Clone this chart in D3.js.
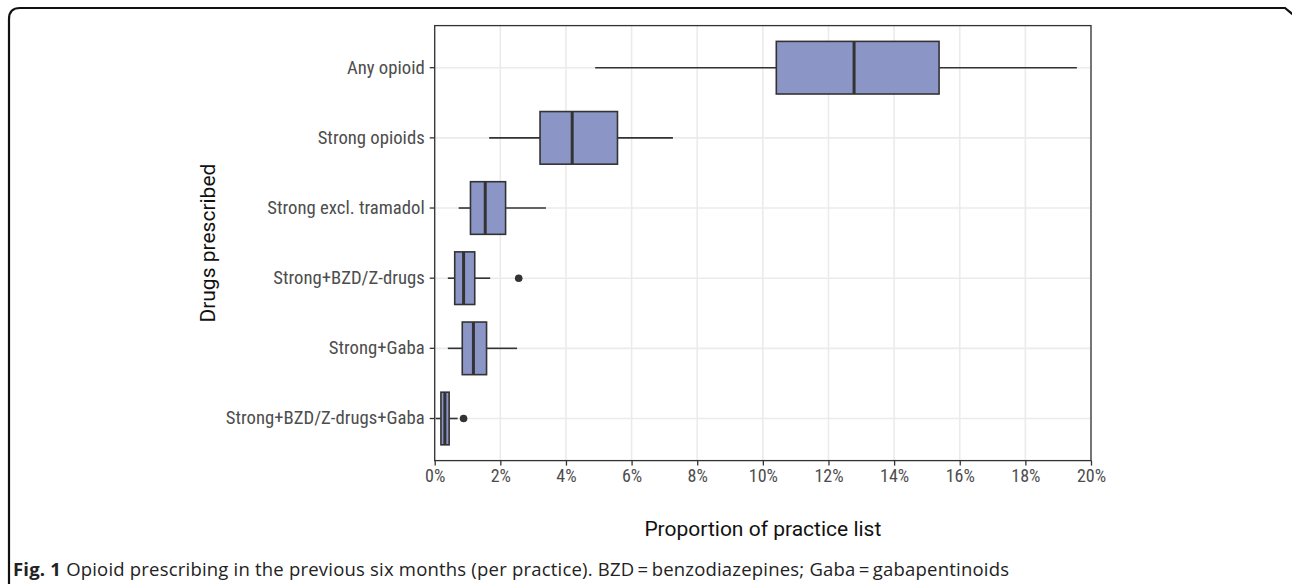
<!DOCTYPE html>
<html>
<head>
<meta charset="utf-8">
<script src="https://cdn.jsdelivr.net/npm/d3@7"></script>
<style>
  body { margin: 0; background: #fff; }
  svg { display: block; }
  .tick text { font-family: "Liberation Sans Narrow", "Roboto Condensed", Roboto, sans-serif; }
</style>
</head>
<body>
<svg id="chart"></svg>
<script>
const width = 1292;
const height = 584;

// groups from top to bottom
const categories = [
  "Any opioid",
  "Strong opioids",
  "Strong excl. tramadol",
  "Strong+BZD/Z-drugs",
  "Strong+Gaba",
  "Strong+BZD/Z-drugs+Gaba"
];

// five-number summaries, % of practice list
const whiskerLow = [4.89, 1.66, 0.73, 0.40, 0.40, 0.03];
const q1 = [10.41, 3.21, 1.09, 0.61, 0.84, 0.19];
const median = [12.78, 4.19, 1.54, 0.88, 1.18, 0.31];
const q3 = [15.37, 5.57, 2.16, 1.22, 1.58, 0.44];
const whiskerHigh = [19.57, 7.26, 3.39, 1.69, 2.51, 0.70];
const outliers = [[], [], [], [2.56], [], [0.88]];

const xTicks = [0, 2, 4, 6, 8, 10, 12, 14, 16, 18, 20];

const margin = { top: 25.6, right: 201, bottom: 123.4, left: 434.7 };
const plotW = width - margin.left - margin.right;
const plotH = height - margin.top - margin.bottom;

const svg = d3.select("#chart")
  .attr("width", width)
  .attr("height", height);

// figure frame (journal style rounded box)
svg.append("path")
  .attr("d", "M9,600 L9,19 Q9,8 20,8 L1285,8 L1296,17")
  .attr("fill", "none")
  .attr("stroke", "#111")
  .attr("stroke-width", 2.2);

const g = svg.append("g")
  .attr("transform", `translate(${margin.left},${margin.top})`);

const x = d3.scaleLinear().domain([0, 20]).range([0, plotW]);

const y = d3.scaleBand()
  .domain(categories)
  .range([0, plotH])
  .paddingOuter(0.1)
  .paddingInner(0);

const boxH = y.bandwidth() * 0.75;
const cy = d => y(d) + y.bandwidth() / 2;

// grid
g.append("g")
  .selectAll("line.vgrid")
  .data(xTicks)
  .join("line")
  .attr("x1", d => x(d)).attr("x2", d => x(d))
  .attr("y1", 0).attr("y2", plotH)
  .attr("stroke", "#ebebeb")
  .attr("stroke-width", 1.6);

g.append("g")
  .selectAll("line.hgrid")
  .data(categories)
  .join("line")
  .attr("x1", 0).attr("x2", plotW)
  .attr("y1", cy).attr("y2", cy)
  .attr("stroke", "#ebebeb")
  .attr("stroke-width", 1.6);

// boxes
const rows = categories.map((c, i) => ({
  c, lo: whiskerLow[i], q1: q1[i], med: median[i], q3: q3[i], hi: whiskerHigh[i], out: outliers[i]
}));

const box = g.append("g")
  .selectAll("g")
  .data(rows)
  .join("g");

box.append("line")
  .attr("x1", d => x(d.lo)).attr("x2", d => x(d.q1))
  .attr("y1", d => cy(d.c)).attr("y2", d => cy(d.c))
  .attr("stroke", "#333").attr("stroke-width", 1.6);

box.append("line")
  .attr("x1", d => x(d.q3)).attr("x2", d => x(d.hi))
  .attr("y1", d => cy(d.c)).attr("y2", d => cy(d.c))
  .attr("stroke", "#333").attr("stroke-width", 1.6);

box.append("rect")
  .attr("x", d => x(d.q1))
  .attr("width", d => x(d.q3) - x(d.q1))
  .attr("y", d => cy(d.c) - boxH / 2)
  .attr("height", boxH)
  .attr("fill", "#8b95c6")
  .attr("stroke", "#333")
  .attr("stroke-width", 1.6);

box.append("line")
  .attr("x1", d => x(d.med)).attr("x2", d => x(d.med))
  .attr("y1", d => cy(d.c) - boxH / 2).attr("y2", d => cy(d.c) + boxH / 2)
  .attr("stroke", "#333").attr("stroke-width", 3);

box.selectAll("circle")
  .data(d => d.out.map(v => ({ v, c: d.c })))
  .join("circle")
  .attr("cx", d => x(d.v))
  .attr("cy", d => cy(d.c))
  .attr("r", 3.8)
  .attr("fill", "#333");

// panel border
g.append("rect")
  .attr("width", plotW).attr("height", plotH)
  .attr("fill", "none")
  .attr("stroke", "#333")
  .attr("stroke-width", 1.3);

// axes
const xAxis = g.append("g")
  .attr("transform", `translate(0,${plotH})`)
  .call(d3.axisBottom(x).tickValues(xTicks).tickFormat(d => d + "%").tickSize(5).tickPadding(4));

const yAxis = g.append("g")
  .call(d3.axisLeft(y).tickSize(5).tickPadding(5));

[xAxis, yAxis].forEach(a => {
  a.select(".domain").remove();
  a.selectAll(".tick line").attr("stroke", "#333").attr("stroke-width", 1.3);
  a.selectAll(".tick text").attr("fill", "#4d4d4d").style("font-size", "18.7px");
});
xAxis.selectAll(".tick text").style("font-size", "18px");

// axis titles
svg.append("text")
  .attr("x", margin.left + plotW / 2)
  .attr("y", 536)
  .attr("text-anchor", "middle")
  .style("font-family", "'Liberation Sans Narrow', Roboto, sans-serif")
  .style("font-size", "21px")
  .attr("fill", "#111")
  .text("Proportion of practice list");

svg.append("text")
  .attr("transform", `translate(215,${margin.top + plotH / 2}) rotate(-90)`)
  .attr("text-anchor", "middle")
  .style("font-family", "'Liberation Sans Narrow', Roboto, sans-serif")
  .style("font-size", "21px")
  .attr("fill", "#111")
  .text("Drugs prescribed");

// caption
const cap = svg.append("text")
  .attr("x", 13)
  .attr("y", 576)
  .style("font-family", "'Open Sans', sans-serif")
  .style("font-size", "18.5px")
  .style("letter-spacing", "0.2px")
  .attr("fill", "#222");
cap.append("tspan").attr("font-weight", "bold").text("Fig. 1");
cap.append("tspan").text(" Opioid prescribing in the previous six months (per practice). BZD\u2009=\u2009benzodiazepines; Gaba\u2009=\u2009gabapentinoids");
</script>
</body>
</html>
